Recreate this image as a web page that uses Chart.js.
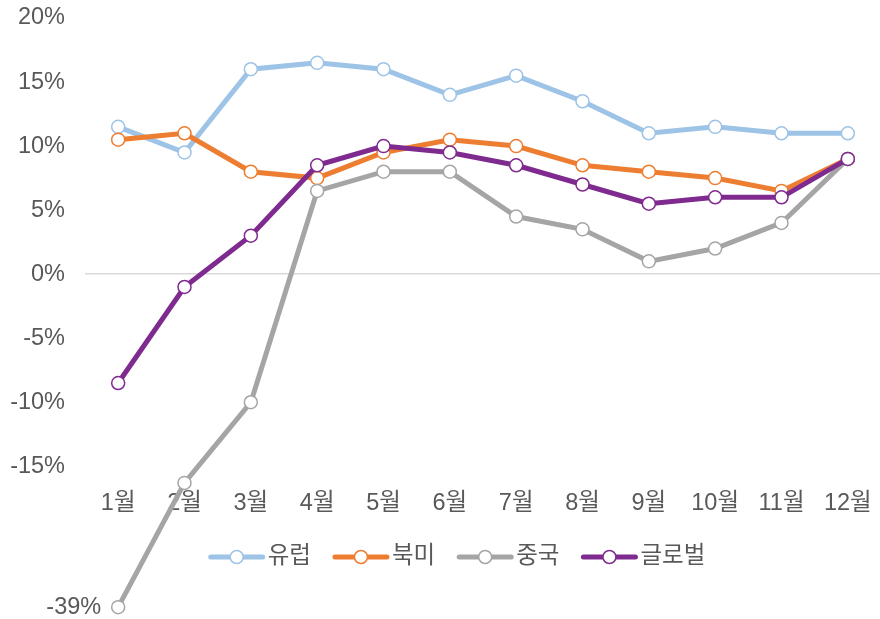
<!DOCTYPE html>
<html>
<head>
<meta charset="utf-8">
<script src="https://cdn.jsdelivr.net/npm/chart.js@4"></script>
<style>
html, body { margin: 0; padding: 0; overflow: hidden; background: #fff; }
#wrap { width: 889px; height: 619px; }
</style>
</head>
<body>
<div id="wrap"><canvas id="myChart" width="889" height="619"></canvas></div>
<script>
const months = ['1월', '2월', '3월', '4월', '5월', '6월', '7월', '8월', '9월', '10월', '11월', '12월'];
const seriesNames = ['유럽', '북미', '중국', '글로벌'];
const europe = [11.5, 9.5, 16, 16.5, 16, 14, 15.5, 13.5, 11, 11.5, 11, 11];
const northAmerica = [10.5, 11, 8, 7.5, 9.5, 10.5, 10, 8.5, 8, 7.5, 6.5, 9];
const china = [-39, -16.3, -10, 6.5, 8, 8, 4.5, 3.5, 1, 2, 4, 9];
const globalTotal = [-8.5, -1, 3, 8.5, 10, 9.5, 8.5, 7, 5.5, 6, 6, 9];
const yTickValues = [-15, -10, -5, 0, 5, 10, 15, 20];
const colors = ['#9dc3e6', '#ed7d31', '#a5a5a5', '#7f2a8e'];

// the axis is broken: anything below this is drawn at brokenAt and labelled with its real value
const breakBelow = -20;
const brokenAt = -26;

const font = { family: "Arial, 'Liberation Sans', 'Noto Sans CJK KR', sans-serif", size: 23.5 };
const textColor = '#595959';

function makeDataset(label, values, color, order) {
    return {
        label: label,
        data: values.map(v => v < breakBelow ? brokenAt : v),
        borderColor: color,
        backgroundColor: '#fff',
        borderWidth: 5,
        pointRadius: 6.5,
        pointBorderWidth: 1.5,
        pointBackgroundColor: '#fff',
        pointBorderColor: color,
        tension: 0,
        clip: false,
        order: order,
    };
}

const breakLabel = {
    id: 'breakLabel',
    afterDatasetsDraw(chart) {
        const ctx = chart.ctx;
        ctx.save();
        ctx.font = font.size + 'px ' + font.family;
        ctx.fillStyle = textColor;
        ctx.textAlign = 'right';
        ctx.textBaseline = 'middle';
        [europe, northAmerica, china, globalTotal].forEach((raw, di) => {
            const meta = chart.getDatasetMeta(di);
            raw.forEach((v, i) => {
                if (v < breakBelow) {
                    const p = meta.data[i];
                    ctx.fillText(v + '%', p.x - 17, p.y);
                }
            });
        });
        ctx.restore();
    }
};

const lineLegend = {
    id: 'lineLegend',
    afterDraw(chart) {
        const ctx = chart.ctx;
        ctx.save();
        ctx.font = font.size + 'px ' + font.family;
        const lineLen = 56, gap = 3, spacing = 22;
        const widths = seriesNames.map(n => ctx.measureText(n).width);
        const total = widths.reduce((a, w) => a + lineLen + gap + w, 0) + spacing * (seriesNames.length - 1);
        let x = 457 - total / 2;
        const y = 557;
        seriesNames.forEach((name, i) => {
            ctx.strokeStyle = colors[i];
            ctx.lineWidth = 5;
            ctx.lineCap = 'round';
            ctx.beginPath();
            ctx.moveTo(x + 2, y);
            ctx.lineTo(x + lineLen - 2, y);
            ctx.stroke();
            ctx.beginPath();
            ctx.arc(x + lineLen / 2, y, 6.5, 0, Math.PI * 2);
            ctx.fillStyle = '#fff';
            ctx.fill();
            ctx.lineWidth = 1.5;
            ctx.stroke();
            ctx.fillStyle = textColor;
            ctx.textAlign = 'left';
            ctx.textBaseline = 'middle';
            ctx.fillText(name, x + lineLen + gap, y);
            x += lineLen + gap + widths[i] + spacing;
        });
        ctx.restore();
    }
};

const ctx = document.getElementById('myChart').getContext('2d');
const myChart = new Chart(ctx, {
    type: 'line',
    data: {
        labels: months,
        datasets: [
            makeDataset(seriesNames[0], europe, colors[0], 4),
            makeDataset(seriesNames[1], northAmerica, colors[1], 3),
            makeDataset(seriesNames[2], china, colors[2], 2),
            makeDataset(seriesNames[3], globalTotal, colors[3], 1),
        ],
    },
    options: {
        responsive: false,
        animation: false,
        layout: { padding: { top: 18, bottom: 1, left: 0, right: 0 } },
        plugins: {
            legend: { display: false },
            tooltip: { enabled: false },
        },
        scales: {
            y: {
                min: -26.3,
                max: 20,
                afterBuildTicks: scale => { scale.ticks = yTickValues.map(v => ({ value: v })); },
                afterFit: scale => {
                    scale.width = 85;
                    scale.paddingTop = 0;
                    scale.paddingBottom = 0;
                },
                grid: {
                    drawTicks: true,
                    tickLength: 20,
                    tickColor: 'rgba(0,0,0,0)',
                    color: c => (c.tick && c.tick.value === 0) ? '#d9d9d9' : 'rgba(0,0,0,0)',
                    lineWidth: 1.5,
                },
                border: { display: false },
                ticks: {
                    padding: 0,
                    color: textColor,
                    font: font,
                    callback: v => v + '%',
                },
            },
            x: {
                position: { y: -15.5 },
                offset: true,
                grid: { display: false },
                border: { display: false },
                ticks: {
                    padding: 9,
                    color: textColor,
                    font: font,
                    maxRotation: 0,
                },
            },
        },
    },
    plugins: [breakLabel, lineLegend],
});
</script>
</body>
</html>
